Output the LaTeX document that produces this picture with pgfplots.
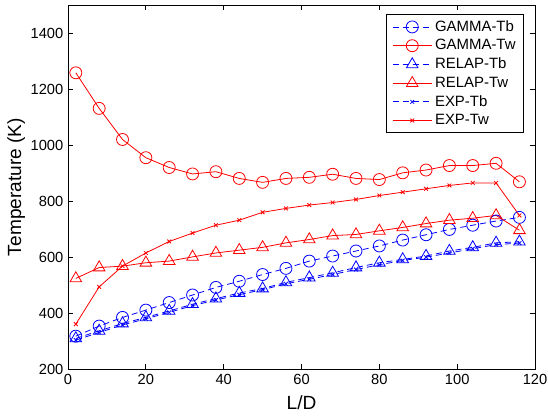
\documentclass[border=0pt]{standalone}
\usepackage{fontspec}
\setmainfont{Liberation Sans}
\usepackage{pgfplots}
\pgfplotsset{compat=1.18}
\definecolor{mblue}{RGB}{0,0,255}
\definecolor{mred}{RGB}{255,0,0}

% L/D stations and temperatures (K)
\pgfplotstableread{
x    gtb   gtw   rtb  rtw  etb  etw
2    318   1258  310  524  304  361
8    354   1131  337  563  331  494
14   385   1020  363  568  358  568
20   411   955   385  580  380  615
26   438   920   408  586  403  656
32   465   897   432  601  427  686
38   492   905   452  615  447  714
44   514   881   472  625  466  732
50   538   867   488  635  484  760
56   560   881   510  651  505  774
62   586   885   527  663  521  786
68   604   896   544  677  538  795
74   622   881   563  681  556  806
80   640   877   580  694  573  820
86   661   901   592  706  588  832
92   680   911   604  720  600  844
98   699   927   622  732  615  856
104  714   927   635  739  630  865
110  729   935   651  749  645  865
116  742   869   655  696  650  749
}\temps

\begin{document}
\begin{tikzpicture}
\begin{axis}[
  name=ax,
  scale only axis,
  width=350pt, height=273pt,
  xmin=0, xmax=120, ymin=200, ymax=1500,
  xtick={0,20,...,120}, ytick={200,400,...,1400},
  tick align=inside,
  major tick length=3.75pt,
  axis line style={line width=0.75pt},
  every tick/.style={black, line width=0.6pt},
  tick label style={font=\fontsize{11}{12}\selectfont},
  /pgf/number format/assume math mode=true,
  /pgf/number format/1000 sep={},
  xlabel={L/D}, ylabel={Temperature (K)},
  label style={font=\fontsize{14.3}{16}\selectfont},
  xlabel style={at={(axis description cs:0.5,-0.0907)}, anchor=center},
  ylabel style={at={(axis description cs:-0.111,0.5)}, anchor=center},
  legend cell align=left,
  legend style={at={(axis description cs:0.9764,0.975)}, anchor=north east,
    font=\fontsize{11.2}{12.5}\selectfont, draw=black, line width=0.6pt,
    inner xsep=4pt, inner ysep=2.5pt, row sep=0.6pt},
  legend image code/.code={\draw[mark repeat=2,mark phase=2]
    plot coordinates {(0cm,0cm) (0.52cm,0cm) (1.04cm,0cm)};},
  every axis plot/.append style={line width=0.6pt},
]
\addplot[mblue, dash pattern=on 4.5pt off 3pt, mark=o, mark size=4.5pt,
  mark options={solid}] table[x=x, y=gtb] {\temps};
\addlegendentry{GAMMA-Tb}
\addplot[mred, mark=o, mark size=4.5pt] table[x=x, y=gtw] {\temps};
\addlegendentry{GAMMA-Tw}
\addplot[mblue, dash pattern=on 4.5pt off 3pt, mark=triangle, mark size=5pt,
  mark options={solid}] table[x=x, y=rtb] {\temps};
\addlegendentry{RELAP-Tb}
\addplot[mred, mark=triangle, mark size=5pt] table[x=x, y=rtw] {\temps};
\addlegendentry{RELAP-Tw}
\addplot[mblue, dash pattern=on 4.5pt off 3pt, mark=x, mark size=2pt,
  mark options={solid}] table[x=x, y=etb] {\temps};
\addlegendentry{EXP-Tb}
\addplot[mred, mark=x, mark size=2pt] table[x=x, y=etw] {\temps};
\addlegendentry{EXP-Tw}
\end{axis}
\pgfresetboundingbox
\path ([xshift=-51pt,yshift=-34.5pt]ax.south west) rectangle ([xshift=9.75pt,yshift=3.75pt]ax.north east);
\end{tikzpicture}
\end{document}
